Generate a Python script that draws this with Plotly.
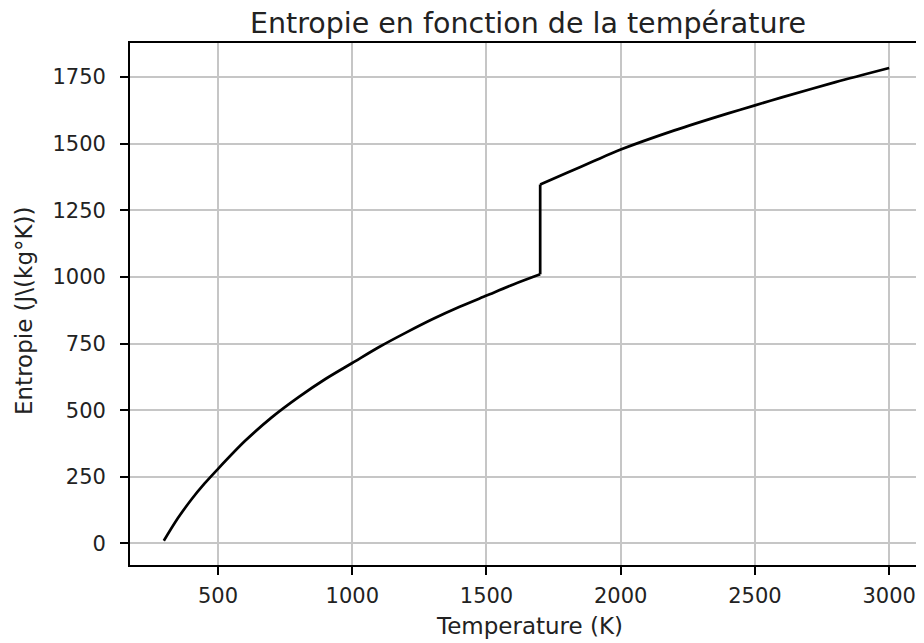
import plotly.graph_objects as go

# ============================================================
# Data
# ============================================================
temp_solid = [298, 350, 400, 450, 500, 600, 700, 800, 900, 1000,
              1100, 1200, 1300, 1400, 1500, 1600, 1700]
entropy_solid = [10, 94, 164, 225, 280, 384, 473, 549, 617, 677,
                 737, 791, 842, 888, 930, 972, 1010]

temp_liquid = [1700, 1800, 1900, 2000, 2200, 2400, 2500, 2600, 2800, 3000]
entropy_liquid = [1347, 1391, 1435, 1478, 1550, 1614, 1644, 1674, 1731, 1784]

# melting jump at 1700 K
temp_jump = [1700, 1700]
entropy_jump = [1010, 1347]

x_ticks = [500, 1000, 1500, 2000, 2500, 3000]
y_ticks = [0, 250, 500, 750, 1000, 1250, 1500, 1750]

# ============================================================
# Figure
# ============================================================
FONT = "DejaVu Sans"
line_style = dict(color="black", width=2.7)

fig = go.Figure()
fig.add_trace(go.Scatter(x=temp_solid, y=entropy_solid, mode="lines",
                         line=dict(shape="spline", smoothing=0.8, **line_style),
                         showlegend=False))
fig.add_trace(go.Scatter(x=temp_jump, y=entropy_jump, mode="lines",
                         line=line_style, showlegend=False))
fig.add_trace(go.Scatter(x=temp_liquid, y=entropy_liquid, mode="lines",
                         line=dict(shape="spline", smoothing=0.8, **line_style),
                         showlegend=False))

axis_common = dict(showgrid=True, gridcolor="#c6c6c6", gridwidth=1.6,
                   zeroline=False, showline=True, linecolor="black",
                   linewidth=1.8, ticks="outside", ticklen=8, tickwidth=1.6,
                   tickcolor="black", automargin=False,
                   ticklabeloverflow="allow",
                   tickfont=dict(family=FONT, size=21, color="#222"))

# page body has an 8px margin (+ scrollbar): keep the figure inside the visible area
W, H = 908, 635
L, T, B = 122, 35, 78

fig.update_layout(
    width=W, height=H,
    margin=dict(l=L, r=0, t=T, b=B),
    plot_bgcolor="white", paper_bgcolor="white",
    font=dict(family=FONT, color="#222"),
    title=dict(text="Entropie en fonction de la température",
               font=dict(family=FONT, size=28.5, color="#222"),
               xref="container", x=520 / W, xanchor="center",
               yref="container", y=1 - 15 / H, yanchor="middle",
               automargin=False),
    xaxis=dict(range=[172, 3100], tickvals=x_ticks, mirror=True,
               ticklabelstandoff=3, **axis_common),
    yaxis=dict(range=[-81, 1878], tickvals=y_ticks,
               ticklabelstandoff=10, **axis_common),
)

# axis titles placed as annotations
plot_w = W - L
plot_h = H - T - B
fig.add_annotation(text="Temperature (K)", showarrow=False,
                   xref="paper", yref="paper",
                   x=(521 - L) / plot_w, y=(H - B - 618) / plot_h,
                   xanchor="center", yanchor="middle",
                   font=dict(family=FONT, size=23, color="#222"))
fig.add_annotation(text="Entropie (J\\(kg°K))", showarrow=False, textangle=-90,
                   xref="paper", yref="paper",
                   x=(16 - L) / plot_w, y=(H - B - 302) / plot_h,
                   xanchor="center", yanchor="middle",
                   font=dict(family=FONT, size=23, color="#222"))

fig.write_html("out.html")
